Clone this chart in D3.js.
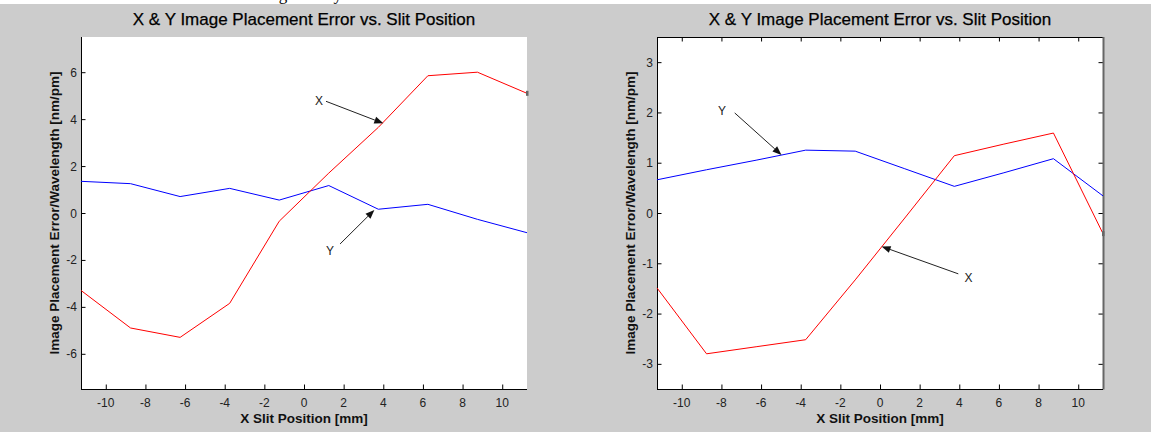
<!DOCTYPE html>
<html>
<head>
<meta charset="utf-8">
<script src="https://cdn.jsdelivr.net/npm/d3@7"></script>
<style>
  body { margin: 0; background: #fff; }
  svg { display: block; font-family: Arial, "Liberation Sans", sans-serif; }
</style>
</head>
<body>
<svg width="1151" height="432"></svg>
<script>
// slit positions shared by both panels
var slitPos = [-11.25, -8.75, -6.25, -3.75, -1.25, 1.25, 3.75, 6.25, 8.75, 11.25]
var xTicks = [-10, -8, -6, -4, -2, 0, 2, 4, 6, 8, 10]

// left panel
var leftX = [-3.3, -4.9, -5.3, -3.85, -0.35, 1.7, 3.65, 5.85, 6.0, 5.1]
var leftY = [1.35, 1.25, 0.7, 1.05, 0.55, 1.17, 0.16, 0.37, -0.27, -0.84]
var leftTicks = [-6, -4, -2, 0, 2, 4, 6]

// right panel
var rightX = [-1.49, -2.8, -2.66, -2.52, -1.33, -0.1, 1.14, 1.37, 1.59, -0.41]
var rightY = [0.66, 0.86, 1.05, 1.25, 1.23, 0.88, 0.53, 0.8, 1.08, 0.34]
var rightTicks = [-3, -2, -1, 0, 1, 2, 3]

// callouts: label position, arrow tail, arrow tip (data units)
var leftNotes = [
  {label: 'X', text: [0.76, 4.8], from: [1.11, 4.76], to: [4.0, 3.82]},
  {label: 'Y', text: [1.31, -1.58], from: [1.82, -1.32], to: [3.55, 0.13]}
]
var rightNotes = [
  {label: 'Y', text: [-7.97, 2.04], from: [-7.33, 1.99], to: [-4.97, 1.155]},
  {label: 'X', text: [4.46, -1.28], from: [3.95, -1.21], to: [0.08, -0.665]}
]

var title = 'X & Y Image Placement Error vs. Slit Position'
var xLabel = 'X Slit Position [mm]'
var yLabel = 'Image Placement Error/Wavelength [nm/pm]'

;(function (d3) {
  var svg = d3.select('svg')

  // cut-off line of the surrounding document (only descenders show)
  svg.append('text')
    .attr('x', 222).attr('y', 0)
    .style('font-family', '"Liberation Serif", "Times New Roman", serif')
    .style('font-size', '17px')
    .style('fill', '#000')
    .text('wavelength and y')

  svg.append('rect')
    .attr('x', 0).attr('y', 4)
    .attr('width', 1151).attr('height', 428)
    .style('fill', '#cccccc')

  var top = 37
  var bottom = 389

  function panel (left, right, yDom, ticks, xs, ys, notes, boxed) {
    var x = d3.scaleLinear().domain([-11.25, 11.25]).range([left, right])
    var y = d3.scaleLinear().domain(yDom).range([bottom, top])
    var g = svg.append('g')

    g.append('rect')
      .attr('x', left).attr('y', top)
      .attr('width', right - left).attr('height', bottom - top)
      .style('fill', '#fff')

    var tl = 4.5

    // x ticks
    g.selectAll('.xt').data(xTicks).enter().append('line')
      .attr('x1', function (d) { return x(d) + 0.5 })
      .attr('x2', function (d) { return x(d) + 0.5 })
      .attr('y1', bottom).attr('y2', bottom - tl)
      .style('stroke', '#000')
    g.selectAll('.xl').data(xTicks).enter().append('text')
      .attr('x', function (d) { return x(d) })
      .attr('y', 407)
      .attr('text-anchor', 'middle')
      .style('font-size', '12px')
      .style('fill', '#222')
      .text(function (d) { return d })

    // y ticks
    g.selectAll('.yt').data(ticks).enter().append('line')
      .attr('x1', left).attr('x2', left + tl)
      .attr('y1', function (d) { return y(d) + 0.5 })
      .attr('y2', function (d) { return y(d) + 0.5 })
      .style('stroke', '#000')
    g.selectAll('.yl').data(ticks).enter().append('text')
      .attr('x', left - 4)
      .attr('y', function (d) { return y(d) + 4.5 })
      .attr('text-anchor', 'end')
      .style('font-size', '12px')
      .style('fill', '#222')
      .text(function (d) { return d })

    if (boxed) {
      g.selectAll('.xt2').data(xTicks).enter().append('line')
        .attr('x1', function (d) { return x(d) + 0.5 })
        .attr('x2', function (d) { return x(d) + 0.5 })
        .attr('y1', top).attr('y2', top + tl)
        .style('stroke', '#000')
      g.selectAll('.yt2').data(ticks).enter().append('line')
        .attr('x1', right).attr('x2', right - tl)
        .attr('y1', function (d) { return y(d) + 0.5 })
        .attr('y2', function (d) { return y(d) + 0.5 })
        .style('stroke', '#000')
      g.append('line')
        .attr('x1', left).attr('x2', right)
        .attr('y1', top + 0.5).attr('y2', top + 0.5)
        .style('stroke', '#000')
      g.append('line')
        .attr('x1', right + 0.5).attr('x2', right + 0.5)
        .attr('y1', top).attr('y2', bottom + 0.5)
        .style('stroke', '#666').style('stroke-width', 2)
    }

    // axis lines
    g.append('line')
      .attr('x1', left + 0.5).attr('x2', left + 0.5)
      .attr('y1', top).attr('y2', bottom + 0.5)
      .style('stroke', '#000')
    g.append('line')
      .attr('x1', left).attr('x2', right)
      .attr('y1', bottom + 0.5).attr('y2', bottom + 0.5)
      .style('stroke', '#000')

    var ln = d3.line()
      .x(function (d) { return x(d[0]) })
      .y(function (d) { return y(d[1]) })

    g.append('path')
      .attr('d', ln(d3.zip(slitPos, ys)))
      .style('fill', 'none').style('stroke', '#0000ff').style('stroke-width', 1)
    g.append('path')
      .attr('d', ln(d3.zip(slitPos, xs)))
      .style('fill', 'none').style('stroke', '#ff0000').style('stroke-width', 1)

    // little marker left where the red curve meets the frame
    var last = xs.length - 1
    g.append('rect')
      .attr('x', x(slitPos[last]) - 1).attr('y', y(xs[last]) - 2.5)
      .attr('width', 2.5).attr('height', 5)
      .style('fill', '#666')

    // callouts
    notes.forEach(function (n) {
      var x1 = x(n.from[0])
      var y1 = y(n.from[1])
      var x2 = x(n.to[0])
      var y2 = y(n.to[1])
      var a = Math.atan2(y2 - y1, x2 - x1)
      var hl = 9
      var hw = 3.5
      var bx = x2 - hl * Math.cos(a)
      var by = y2 - hl * Math.sin(a)
      g.append('line')
        .attr('x1', x1).attr('y1', y1).attr('x2', bx).attr('y2', by)
        .style('stroke', '#222').style('stroke-width', 1)
      g.append('path')
        .attr('d', 'M' + x2 + ',' + y2 +
          'L' + (bx + hw * Math.sin(a)) + ',' + (by - hw * Math.cos(a)) +
          'L' + (bx - hw * Math.sin(a)) + ',' + (by + hw * Math.cos(a)) + 'Z')
        .style('fill', '#111')
      g.append('text')
        .attr('x', x(n.text[0])).attr('y', y(n.text[1]) + 4.5)
        .attr('text-anchor', 'middle')
        .style('font-size', '12px')
        .style('fill', '#222')
        .text(n.label)
    })

    var cx = (left + right) / 2
    g.append('text')
      .attr('x', cx).attr('y', 25)
      .attr('text-anchor', 'middle')
      .style('font-size', '17px')
      .style('fill', '#000')
      .style('stroke', '#000').style('stroke-width', 0.25)
      .text(title)
    g.append('text')
      .attr('x', cx).attr('y', 423)
      .attr('text-anchor', 'middle')
      .style('font-size', '13.5px')
      .style('font-weight', 'bold')
      .style('fill', '#111')
      .text(xLabel)
    g.append('text')
      .attr('transform', 'translate(' + (left - 22) + ',' + ((top + bottom) / 2) + ') rotate(-90)')
      .attr('text-anchor', 'middle')
      .style('font-size', '13.5px')
      .style('font-weight', 'bold')
      .style('fill', '#111')
      .text(yLabel)
  }

  panel(81, 527, [-7.5, 7.5], leftTicks, leftX, leftY, leftNotes, false)
  panel(657, 1103, [-3.5, 3.5], rightTicks, rightX, rightY, rightNotes, true)
})(window.d3)
</script>
</body>
</html>
